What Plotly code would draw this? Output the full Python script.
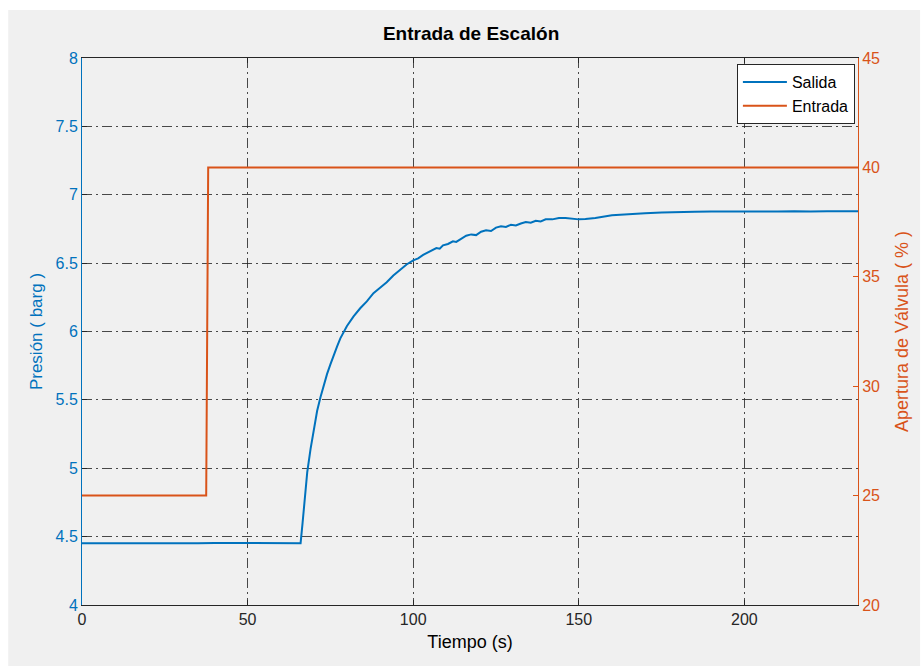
import plotly.graph_objects as go

# Valve opening step (Entrada) in %
t_entrada = [0, 37.5, 38.1, 234.3]
apertura = [25, 25, 40, 40]

# Measured pressure response (Salida) in barg
t_salida = [0, 5, 10, 15, 20, 25, 30, 35, 40, 45, 50, 55, 60, 64, 66.0,
            66.6, 67.2, 68.0, 69.0, 70.0, 71.0, 72.0, 73.0, 74.0, 75.0,
            76.0, 77.0, 78.0, 79.0, 80.0, 82.0, 84.0, 86.0, 88.0, 90.0,
            92.0, 94.0, 96.0, 98.0, 100.0, 101.5, 103.0, 104.5, 106.0, 107.0,
            108.0, 109.0, 110.5, 112.0, 113.0, 114.5, 116.0, 117.5, 119.0, 120.5,
            122.0, 123.5, 125.0, 126.5, 128.0, 129.5, 131.0, 132.5, 134.0, 135.5,
            137.0, 138.5, 140.0, 142.0, 144.0, 146.0, 148.0, 150.0, 152.0, 155.0,
            160.0, 165.0, 170.0, 175.0, 180.0, 185.0, 190.0, 195.0, 200.0, 205.0,
            210.0, 215.0, 220.0, 225.0, 230.0, 234.3]
presion = [4.452, 4.450, 4.453, 4.451, 4.452, 4.450, 4.452, 4.451, 4.453, 4.452, 4.451, 4.452, 4.450, 4.452, 4.452,
           4.60, 4.78, 4.97, 5.14, 5.29, 5.42, 5.52, 5.61, 5.69, 5.76,
           5.83, 5.89, 5.95, 6.00, 6.04, 6.11, 6.17, 6.22, 6.28, 6.32,
           6.36, 6.41, 6.45, 6.49, 6.52, 6.535, 6.56, 6.58, 6.60, 6.61,
           6.605, 6.63, 6.64, 6.66, 6.655, 6.68, 6.70, 6.71, 6.705, 6.73,
           6.74, 6.735, 6.76, 6.77, 6.765, 6.78, 6.775, 6.79, 6.80, 6.795,
           6.81, 6.805, 6.82, 6.82, 6.83, 6.83, 6.825, 6.82, 6.822, 6.83,
           6.85, 6.86, 6.865, 6.87, 6.875, 6.876, 6.878, 6.877, 6.878, 6.876,
           6.878, 6.880, 6.877, 6.880, 6.879, 6.880]

x_ticks = [0, 50, 100, 150, 200]
y_ticks = [4, 4.5, 5, 5.5, 6, 6.5, 7, 7.5, 8]
y2_ticks = [20, 25, 30, 35, 40, 45]

BLUE = "#0072BD"
ORANGE = "#D95319"
DARK = "#262626"
FONT = "Liberation Sans, Arial, sans-serif"
GRID_DASH = "10px,4px,2px,4px"
GRID_COLOR = "rgba(30,30,30,0.8)"

fig = go.Figure()
fig.add_trace(go.Scatter(x=t_salida, y=presion, mode="lines", name="Salida",
                         line=dict(color=BLUE, width=2)))
fig.add_trace(go.Scatter(x=t_entrada, y=apertura, mode="lines", name="Entrada",
                         yaxis="y2", line=dict(color=ORANGE, width=2)))

# grey figure panel behind everything
fig.add_shape(type="rect", xref="paper", yref="paper",
              x0=-0.0951, x1=1.08, y0=-0.12, y1=1.0878,
              fillcolor="#f0f0f0", line=dict(width=0), layer="below")

fig.update_layout(
    width=921, height=666,
    margin=dict(l=82, r=61, t=58, b=61),
    paper_bgcolor="white",
    plot_bgcolor="white",
    font=dict(family=FONT, size=16, color=DARK),
    title=dict(text="<b>Entrada de Escalón</b>", x=0.5115, xanchor="center",
               y=0.95, yanchor="middle", font=dict(size=19, color="#000000")),
    showlegend=True,
    legend=dict(x=0.996, y=0.989, xanchor="right", yanchor="top",
                bgcolor="white", bordercolor=DARK, borderwidth=1,
                font=dict(size=16, color="#000000"),
                tracegroupgap=0, itemwidth=44),
    xaxis=dict(range=[0, 234.3], tickvals=x_ticks, ticktext=[str(v) for v in x_ticks],
               showline=True, linecolor=DARK, linewidth=1, mirror="ticks",
               ticks="inside", ticklen=5, tickcolor=DARK,
               showgrid=True, gridcolor=GRID_COLOR, gridwidth=1,
               griddash=GRID_DASH, zeroline=False,
               tickfont=dict(size=16, color=DARK),
               title=dict(text="Tiempo (s)", font=dict(size=18, color="#000000"), standoff=8)),
    yaxis=dict(range=[4, 8], tickvals=y_ticks, ticktext=[f"{v:g}" for v in y_ticks],
               showline=True, linecolor=BLUE, linewidth=1,
               ticks="inside", ticklen=5, tickcolor=DARK,
               showgrid=True, gridcolor=GRID_COLOR, gridwidth=1,
               griddash=GRID_DASH, zeroline=False,
               tickfont=dict(size=16, color=BLUE),
               title=dict(text="Presión ( barg )", font=dict(size=17, color=BLUE), standoff=8)),
    yaxis2=dict(range=[20, 45], tickvals=y2_ticks, overlaying="y", side="right",
                showline=True, linecolor=ORANGE, linewidth=1,
                ticks="inside", ticklen=5, tickcolor=ORANGE,
                showgrid=False, zeroline=False,
                tickfont=dict(size=16, color=ORANGE),
                title=dict(text="Apertura de Válvula ( % )", font=dict(size=18, color=ORANGE), standoff=16)),
)

fig.write_html("out.html")
